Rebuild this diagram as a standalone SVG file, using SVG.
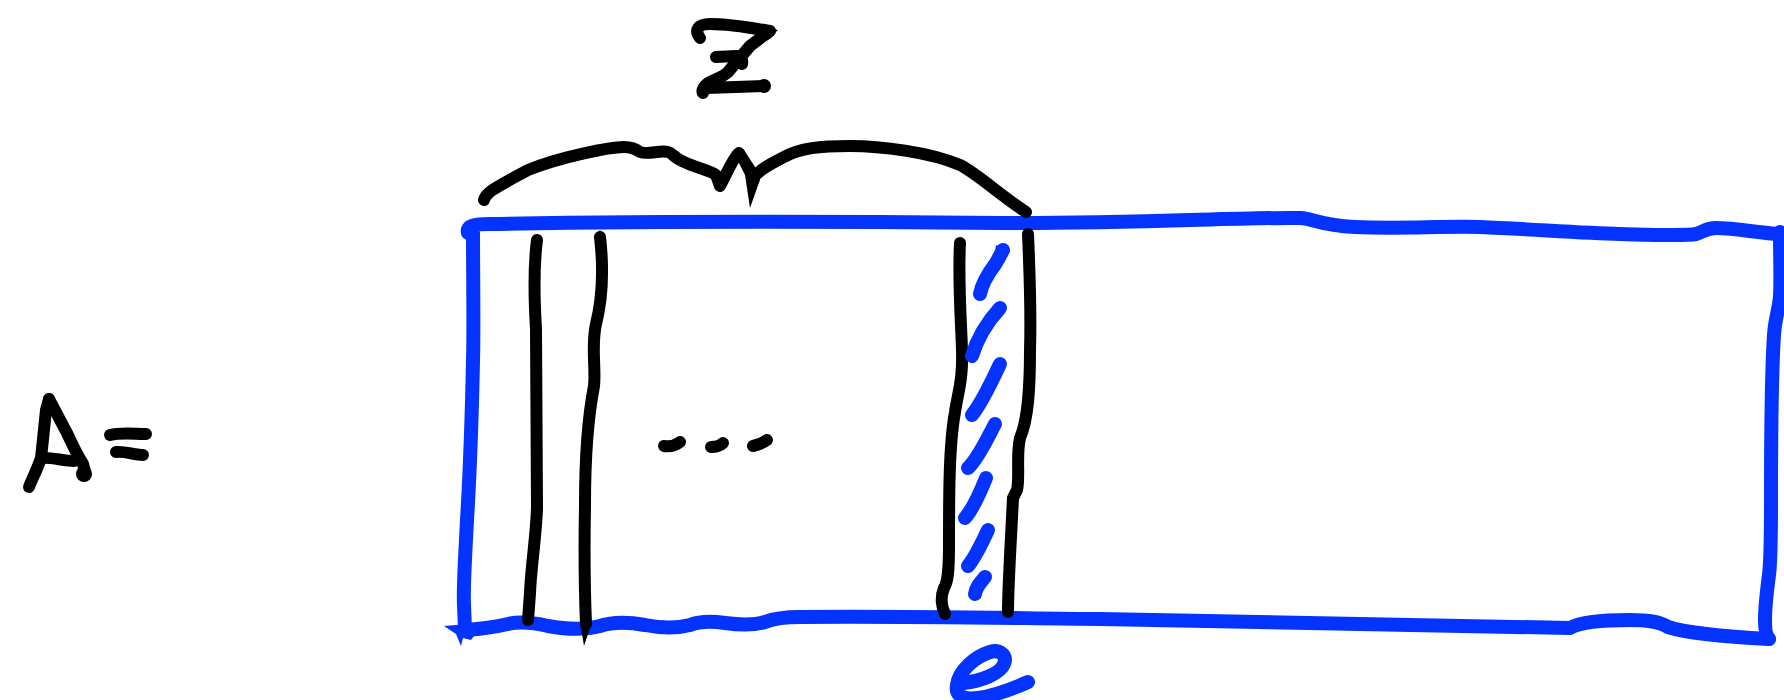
<svg xmlns="http://www.w3.org/2000/svg" width="1784" height="700" viewBox="0 0 1784 700">
<style>
.b{stroke:#0433ff;fill:none;stroke-width:14;stroke-linecap:round;stroke-linejoin:round}
.bf{fill:#0433ff;stroke:none}
.k{stroke:#000;fill:none;stroke-width:12;stroke-linecap:round;stroke-linejoin:round}
.kf{fill:#000;stroke:none}
</style>
<rect width="1784" height="700" fill="#fff"/>
<g id="label-A">
<path class="k" d="M29,487 C32,479 37,470 41,458 C43,440 45,420 46,410 L49,399"/>
<path class="k" d="M49,399 C55,410 61,422 67,433 C72,444 78,456 83,464 L85,472"/>
<path class="k" d="M41,458 C52,457 63,461 74,461"/>
<circle class="kf" cx="84" cy="474" r="8"/>
<path class="k" d="M110,435 C121,432 135,434 146,434"/>
<path class="k" d="M116,452 C125,451 134,455 143,455"/>
</g>
<g id="box-A">
<path class="b" d="M468,233 C466,226 474,224 490,224 C600,222 800,221 1000,223 C1120,224 1250,217 1300,218 C1316,219 1318,225 1355,227 C1400,229 1440,226 1480,227 C1530,229 1580,233 1620,234 C1660,235 1685,236 1696,234 C1703,232 1706,228 1716,228 C1735,228 1760,233 1779,234"/>
<path class="b" d="M1780,232 C1780,260 1781,280 1780,296 C1779,310 1775,318 1774,335 C1771,380 1771,440 1771,500 C1771,540 1771,560 1769,575 C1767,590 1765,605 1765,620 C1765,630 1766,636 1769,639"/>
<path class="b" d="M473,233 C473,280 474,330 473,360 C472,410 470,470 467,520 C465,560 463,590 464,605 L465,630"/>
<path class="b" d="M466,630 C480,629 495,627 508,624 C520,621 535,623 548,626 C565,629 585,630 600,626 C612,622 628,622 645,625 C660,628 675,629 690,625 C700,621 712,621 725,623 C740,625 755,625 765,622 C775,618 785,617 800,617 C900,616 1000,618 1100,619 C1250,621 1400,624 1570,628 C1580,622 1600,620 1630,620 C1650,620 1660,622 1668,627 C1690,634 1730,637 1769,639"/>
<path class="bf" d="M444,626 L468,624 L477,632 L471,640 L463,638 L461,646 L456,634 Z"/>
</g>
<g id="columns">
<path class="k" d="M537,240 C534,263 534,296 536,329 L537,508 C536,538 531,566 530,593 L528,620"/>
<path class="k" d="M600,237 C603,263 603,296 596,324 C591,346 596,368 594,386 C588,417 585,461 585,505 C584,560 585,600 586,624"/>
<path class="kf" d="M580,622 L592,622 L584,646 Z"/>
<path class="kf" d="M594,239 L600,230 L606,239 Z"/>
<path class="k" d="M960,243 C958,280 961,320 962,350 C963,380 958,392 955,412 C949,445 949,495 949,545 C949,570 948,582 944,588 C940,598 942,608 945,614"/>
<path class="k" d="M1028,234 C1030,280 1031,320 1030,350 C1030,390 1028,420 1020,438 C1016,455 1020,478 1017,490 L1013,498 C1011,540 1008,585 1008,612"/>
</g>
<g id="hatch">
<path class="b" d="M1003,250 L996,263 C990,271 982,282 980,294"/>
<path class="bf" d="M996,245 L1010,251 L1004,263 L994,259 Z"/>
<path class="b" d="M1000,308 C990,319 978,336 972,356"/>
<path class="b" d="M1000,364 C992,381 982,403 972,415"/>
<path class="b" d="M995,424 C988,437 978,459 968,468"/>
<path class="b" d="M986,478 C980,493 972,510 965,518"/>
<path class="b" d="M988,530 C982,543 973,560 968,566"/>
<path class="b" d="M985,577 C980,583 976,587 975,594"/>
</g>
<g id="dots">
<path class="k" d="M664,446 C670,447 676,445 680,442"/>
<path class="k" d="M711,447 C716,447 720,446 723,443"/>
<path class="k" d="M753,446 C758,445 763,443 767,440"/>
</g>
<g id="connectors">
<path class="k" d="M484,200 C486,192 495,188 528,170 C560,157 610,147 624,147 C632,147 636,149 640,152 C648,155 660,150 668,152 C672,153 674,157 680,160 C695,168 710,170 716,175 C718,180 720,186 720,186 C727,173 733,158 739,153"/>
<path class="kf" d="M735,155 L744,150 L757,170 L761,177 L750,208 L745,175 Z"/>
<path class="k" d="M758,173 C765,166 775,162 784,157 C800,148 820,146 850,146 C880,146 930,152 960,165 C975,172 1000,195 1026,212"/>
</g>
<g id="label-Z">
<path class="k" d="M700,38 C694,30 698,24 710,24 C730,24 752,28 770,31"/>
<path class="kf" d="M758,26 L778,30 L766,41 Z"/>
<path class="k" d="M768,33 C760,38 755,42 750,46 L728,72 C722,78 712,80 707,84 C702,88 702,92 703,93"/>
<path class="k" d="M716,57 L737,56 C741,57 743,61 742,64"/>
<path class="k" d="M707,88 L764,86"/>
<circle class="kf" cx="764" cy="86" r="7"/>
</g>
<g id="label-e">
<path class="b" d="M963,683 C981,681 1000,674 1004,664 C1008,655 999,649 990,652 C974,657 959,671 957,685 C955,696 964,700 978,698 C993,696 1012,689 1028,682"/>
</g>
</svg>
